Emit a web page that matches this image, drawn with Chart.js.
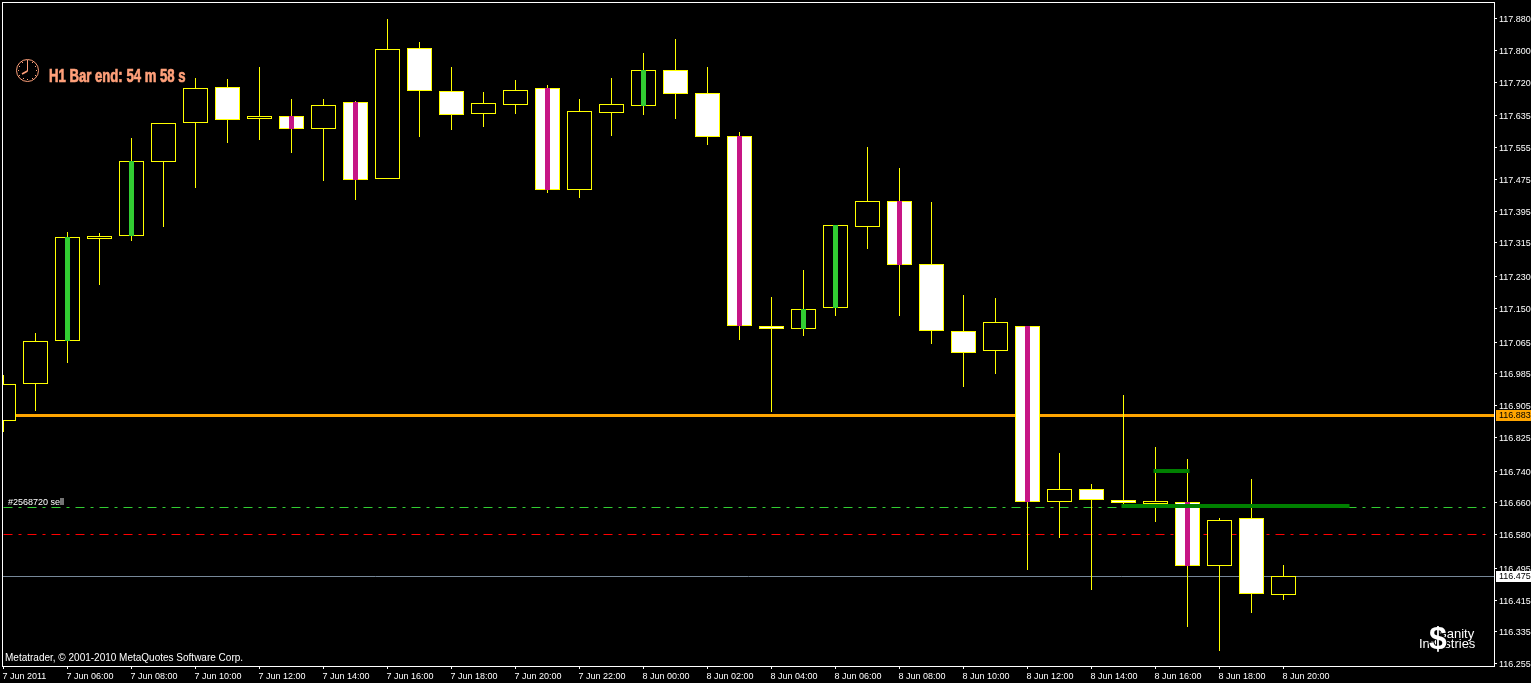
<!DOCTYPE html>
<html>
<head>
<meta charset="utf-8">
<title>H1 candlestick chart</title>
<script src="https://cdn.jsdelivr.net/npm/chart.js@4/dist/chart.umd.js"></script>
<style>
html,body{margin:0;padding:0;background:#000;overflow:hidden}
canvas{display:block}
</style>
</head>
<body>
<canvas id="c" width="1531" height="683"></canvas>
<script>
// Hourly bars, 7 Jun 2011 04:00 (bar 0) to 8 Jun 2011 20:00 (bar 40)
const highs  = [116.983,117.088,117.343,117.340,117.580,117.617,117.730,117.728,117.758,117.678,117.678,117.673,117.879,117.821,117.758,117.695,117.726,117.713,117.678,117.731,117.794,117.829,117.758,117.595,117.179,117.247,117.360,117.557,117.504,117.418,117.184,117.176,117.105,116.786,116.708,116.932,116.801,116.771,116.622,116.721,116.504];
const lows   = [116.840,116.891,117.013,117.209,117.320,117.356,117.454,117.568,117.575,117.542,117.471,117.424,117.477,117.583,117.600,117.608,117.640,117.442,117.428,117.585,117.637,117.627,117.562,117.071,116.889,117.081,117.131,117.300,117.131,117.061,116.952,116.985,116.491,116.572,116.441,116.655,116.612,116.348,116.287,116.383,116.416];
const opens  = [116.866,116.959,117.069,117.326,117.333,117.520,117.616,117.707,117.628,117.634,117.603,117.669,117.477,117.805,117.697,117.641,117.663,117.705,117.449,117.643,117.661,117.750,117.692,117.584,117.105,117.097,117.150,117.356,117.420,117.261,117.093,117.044,117.105,116.663,116.695,116.667,116.658,116.662,116.500,116.622,116.427];
const closes = [116.959,117.068,117.330,117.333,117.522,117.617,117.705,117.626,117.634,117.603,117.662,117.474,117.803,117.699,117.638,117.667,117.700,117.449,117.647,117.664,117.750,117.691,117.583,117.107,117.099,117.148,117.360,117.420,117.260,117.092,117.039,117.115,116.663,116.695,116.668,116.661,116.664,116.500,116.617,116.430,116.475];

const greenStripBars   = [2,4,20,25,26];
const magentaStripBars = [9,11,17,23,28,32,37];

const xTickBars   = [0,2,4,6,8,10,12,14,16,18,20,22,24,26,28,30,32,34,36,38,40];
const xTickLabels = ['7 Jun 2011','7 Jun 06:00','7 Jun 08:00','7 Jun 10:00','7 Jun 12:00','7 Jun 14:00','7 Jun 16:00','7 Jun 18:00','7 Jun 20:00','7 Jun 22:00','8 Jun 00:00','8 Jun 02:00','8 Jun 04:00','8 Jun 06:00','8 Jun 08:00','8 Jun 10:00','8 Jun 12:00','8 Jun 14:00','8 Jun 16:00','8 Jun 18:00','8 Jun 20:00'];
const yTicks = [117.880,117.800,117.720,117.635,117.555,117.475,117.395,117.315,117.230,117.150,117.065,116.985,116.905,116.825,116.740,116.660,116.580,116.495,116.415,116.335,116.255];

const resistanceLevel = 116.883;
const bidLevel   = 116.475;
const orderLevel = 116.649;
const stopLevel  = 116.581;
const zoneLongLevel  = 116.652;
const zoneLongBars   = [35,42];
const zoneShortLevel = 116.741;
const zoneShortBars  = [36,37];

const xMin = -0.015625, xMax = 46.578;
const yMin = 116.2493,  yMax = 117.9195;
const dashEnd = 46.33;

const YELLOW='#FFFF00', WHITE='#FFFFFF', BLACK='#000000', SALMON='#FFA07A';
const FONT='"Liberation Sans", sans-serif';

const wickData = highs.map((h,i)=>({x:i,y:[lows[i],h]}));
const bodyData = opens.map((o,i)=>({x:i,y:[o,closes[i]]}));
const stripData = list => list.map(i=>({x:i,y:[opens[i],closes[i]]}));
const hLine = (level,a,b,color,width,dash)=>({
  type:'line', data:[{x:a,y:level},{x:b,y:level}], borderColor:color, borderWidth:width,
  borderDash:dash||[], pointRadius:0, tension:0, fill:false, borderCapStyle:'butt', order:10
});

const layered = (o)=>Object.assign({type:'bar',grouped:false,borderSkipped:false},o);

// Pixel snap: keeps every mark on whole device pixels, like the platform's own drawing
const snap = {
  id:'snap',
  beforeDatasetsDraw(chart){
    chart.data.datasets.forEach((ds,i)=>{
      const meta = chart.getDatasetMeta(i);
      meta.data.forEach(el=>{
        if(ds.type==='bar'){ el.y=Math.round(el.y); el.base=Math.round(el.base); }
        else {
          const w = ds.borderWidth;
          if(w===3) el.y = Math.ceil(el.y)+0.5;
          else el.y = w%2 ? Math.floor(el.y)+0.5 : Math.round(el.y);
        }
      });
    });
  }
};

const overlay = {
  id:'overlay',
  afterDraw(chart){
    const {ctx,chartArea:a,scales:{y}} = chart;
    ctx.save();
    // frame
    ctx.strokeStyle=WHITE; ctx.lineWidth=1;
    ctx.strokeRect(a.left-0.5,a.top-0.5,a.right-a.left+1,a.bottom-a.top+1);
    // price tags
    const tag=(v,bg,nudge)=>{
      const p=Math.round(y.getPixelForValue(v))+nudge;
      ctx.fillStyle=bg; ctx.fillRect(a.right+2,p-5,35,11);
      ctx.fillStyle=BLACK; ctx.font='9px '+FONT; ctx.textAlign='left'; ctx.textBaseline='middle';
      ctx.fillText(v.toFixed(3),a.right+5,p+1);
    };
    tag(resistanceLevel,'#FFA500',1);
    tag(bidLevel,WHITE,0);
    // texts
    ctx.fillStyle=WHITE; ctx.textBaseline='alphabetic'; ctx.textAlign='left';
    ctx.font='9px '+FONT;
    ctx.fillText('#2568720 sell',8,505);
    ctx.font='10px '+FONT;
    ctx.fillText('Metatrader, \u00A9 2001-2010 MetaQuotes Software Corp.',5,661);
    // timer
    ctx.save();
    ctx.translate(49,82); ctx.scale(0.73,1);
    ctx.fillStyle=SALMON; ctx.strokeStyle=SALMON; ctx.lineWidth=0.7;
    ctx.font='bold 18px '+FONT;
    ctx.fillText('H1 Bar end: 54 m 58 s',0,0);
    ctx.strokeText('H1 Bar end: 54 m 58 s',0,0);
    ctx.restore();
    // clock
    ctx.strokeStyle=SALMON; ctx.fillStyle=SALMON; ctx.lineWidth=1;
    ctx.beginPath(); ctx.arc(27.5,70.5,11,0,Math.PI*2); ctx.stroke();
    for(let k=0;k<12;k++){
      const t=k*Math.PI/6;
      ctx.fillRect(Math.round(27+Math.cos(t)*9),Math.round(70+Math.sin(t)*9),1,1);
    }
    ctx.lineWidth=1;
    ctx.beginPath(); ctx.moveTo(27.5,71); ctx.lineTo(27.5,60); ctx.stroke();
    ctx.lineWidth=1.6;
    ctx.beginPath(); ctx.moveTo(27.5,71); ctx.lineTo(22,74); ctx.stroke();
    // logo
    ctx.fillStyle=WHITE; ctx.font='13px '+FONT;
    ctx.fillText('Sanity',1438,638);
    ctx.fillText('Industries',1419,648);
    ctx.font='bold 32px '+FONT; ctx.textAlign='center';
    ctx.strokeStyle=BLACK; ctx.lineWidth=2;
    ctx.strokeText('$',1438,649);
    ctx.fillText('$',1438,649);
    ctx.restore();
  }
};

const noPad = s => { s.paddingLeft=0; s.paddingRight=0; s.paddingTop=0; s.paddingBottom=0; };

new Chart(document.getElementById('c'),{
  data:{datasets:[
    hLine(resistanceLevel,xMin,xMax,'#FFA500',3),
    hLine(orderLevel,0,dashEnd,'#32CD32',1,[9,6,3,6]),
    hLine(stopLevel,0,dashEnd,'#FF0000',1,[9,6,3,6]),
    hLine(bidLevel,xMin,xMax,'#778899',1),
    layered({label:'Wick',data:wickData,backgroundColor:YELLOW,barThickness:1,borderWidth:0,inflateAmount:0,order:5}),
    layered({label:'Body',data:bodyData,backgroundColor:bodyData.map((d,i)=>closes[i]>opens[i]?BLACK:WHITE),borderColor:YELLOW,borderWidth:1,inflateAmount:0,barThickness:25,order:4}),
    layered({label:'Strip up',data:stripData(greenStripBars),backgroundColor:'#32CD32',barThickness:5,borderWidth:0,inflateAmount:0,order:3}),
    layered({label:'Strip down',data:stripData(magentaStripBars),backgroundColor:'#C71585',barThickness:5,borderWidth:0,inflateAmount:0,order:3}),
    Object.assign(hLine(zoneLongLevel,zoneLongBars[0],zoneLongBars[1],'#008000',4),{borderCapStyle:'square',order:1}),
    Object.assign(hLine(zoneShortLevel,zoneShortBars[0],zoneShortBars[1],'#008000',4),{borderCapStyle:'square',order:1})
  ]},
  options:{
    responsive:false, animation:false, events:[],
    layout:{autoPadding:false,padding:{left:3,top:3,right:0,bottom:0}},
    plugins:{legend:{display:false},tooltip:{enabled:false},title:{display:false}},
    scales:{
      x:{type:'linear',min:xMin,max:xMax,offset:false,
        afterBuildTicks(s){s.ticks=xTickBars.map(v=>({value:v}));},
        afterFit(s){s.height=17;noPad(s);},
        border:{display:false},
        grid:{display:true,drawOnChartArea:false,drawTicks:true,tickLength:3,tickColor:WHITE,offset:false},
        ticks:{color:WHITE,font:{family:FONT,size:9},autoSkip:false,maxRotation:0,minRotation:0,align:'start',labelOffset:-1,padding:2,
          callback(v,i){return xTickLabels[i];}}
      },
      y:{type:'linear',position:'right',min:yMin,max:yMax,
        afterBuildTicks(s){s.ticks=yTicks.map(v=>({value:v}));},
        afterFit(s){s.width=37;noPad(s);},
        border:{display:false},
        grid:{display:true,drawOnChartArea:false,drawTicks:true,tickLength:3,tickColor:WHITE},
        ticks:{color:WHITE,font:{family:FONT,size:9},padding:2,labelOffset:1,autoSkip:false,
          callback(v){return v.toFixed(3);}}
      }
    }
  },
  plugins:[snap,overlay]
});
</script>
</body>
</html>
